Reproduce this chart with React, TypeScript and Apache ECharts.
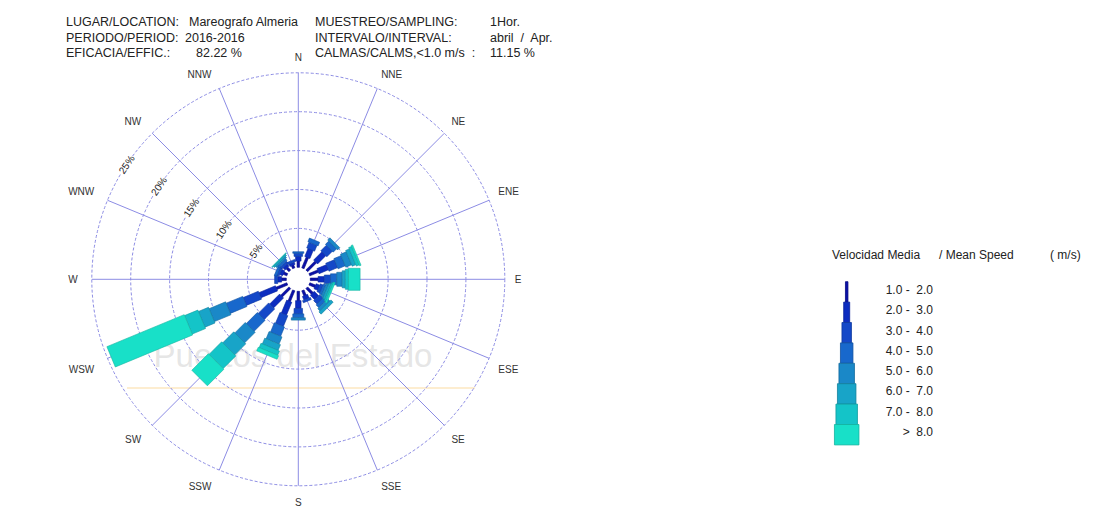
import React, { useEffect, useRef } from 'react';
import * as echarts from 'echarts';

// ---------- data ----------
const DIRECTIONS = ['N', 'NNE', 'NE', 'ENE', 'E', 'ESE', 'SE', 'SSE', 'S', 'SSW', 'SW', 'WSW', 'W', 'WNW', 'NW', 'NNW'];
const DIRECTION_DEG = [0, 22.5, 45, 67.5, 90, 112.5, 135, 157.5, 180, 202.5, 225, 247.5, 270, 292.5, 315, 337.5];
const SPEED_CLASSES = ['1.0 -  2.0', '2.0 -  3.0', '3.0 -  4.0', '4.0 -  5.0', '5.0 -  6.0', '6.0 -  7.0', '7.0 -  8.0', '>  8.0'];
const RING_TICKS = [0, 5, 10, 15, 20, 25];
const RING_LABEL_DEG = 303.75; // bearing along which the ring labels are written

// frequency (%) of each speed class, per direction (N .. NNW)
const F_1_2 = [0.8, 1.5, 1.6, 1.2, 1.0, 0.8, 1.0, 0.7, 1.2, 1.5, 1.5, 1.5, 0.6, 0.5, 0.5, 0.4];
const F_2_3 = [0.6, 1.1, 1.5, 1.3, 0.8, 0.5, 0.8, 0.5, 1.0, 1.8, 1.8, 2.3, 0.5, 0.4, 0.4, 0.3];
const F_3_4 = [0.4, 0.8, 1.0, 1.2, 0.8, 0.4, 0.6, 0.3, 0.7, 1.5, 1.9, 2.1, 0.4, 0.3, 0.3, 0.3];
const F_4_5 = [0.2, 0.5, 0.6, 1.0, 0.8, 0.3, 0.5, 0.0, 0.5, 1.3, 2.0, 2.3, 0.0, 0.3, 0.3, 0.0];
const F_5_6 = [0.0, 0.0, 0.4, 0.8, 0.7, 0.3, 0.4, 0.0, 0.3, 1.0, 1.9, 2.3, 0.0, 0.0, 0.2, 0.0];
const F_6_7 = [0.0, 0.0, 0.0, 0.5, 0.4, 0.3, 0.4, 0.0, 0.0, 0.8, 2.0, 1.4, 0.0, 0.0, 0.2, 0.0];
const F_7_8 = [0.0, 0.0, 0.0, 0.4, 0.4, 0.2, 0.0, 0.0, 0.0, 0.6, 2.3, 1.85, 0.0, 0.0, 0.1, 0.0];
const F_GT8 = [0.0, 0.0, 0.0, 0.2, 1.5, 0.2, 0.0, 0.0, 0.0, 0.5, 3.0, 10.75, 0.0, 0.0, 0.0, 0.0];
const FREQS = [F_1_2, F_2_3, F_3_4, F_4_5, F_5_6, F_6_7, F_7_8, F_GT8];

const HEADER_LEFT = [
  ['LUGAR/LOCATION:', 'Mareografo Almeria'],
  ['PERIODO/PERIOD:', '2016-2016'],
  ['EFICACIA/EFFIC.:', '82.22 %'],
];
const HEADER_RIGHT = [
  ['MUESTREO/SAMPLING:', '1Hor.'],
  ['INTERVALO/INTERVAL:', 'abril  /  Apr.'],
  ['CALMAS/CALMS,<1.0 m/s  :', '11.15 %'],
];

// ---------- style ----------
const CLASS_COLORS = ['#0a10a8', '#0c2cc0', '#1448c8', '#1868cc', '#1a88c8', '#18a4c8', '#14c4c8', '#18e0c8'];
const CLASS_STROKES = ['#060a80', '#08209a', '#0e389e', '#1050a0', '#12689c', '#10809c', '#0e9c9e', '#12b4a0'];
const BAR_WIDTHS = [2.5, 5.5, 8.5, 11, 14, 17, 20, 22];
const LEGEND_WIDTHS = [2.5, 6, 9.5, 12.5, 15.5, 18.5, 21.5, 24.5];
const LINE = '#8c8ce4';
const FONT = '"Liberation Sans", Arial, sans-serif';
const CX = 298.3;
const CY = 279.3;
const R_IN = 12;
const R_OUT = 206.5;
const RMAX = RING_TICKS[RING_TICKS.length - 1];
const DIR_LABEL_GAP = 10;
const RING_LABEL_ROT = 56.25;

function buildSegments() {
  const out: number[][] = [];
  DIRECTIONS.forEach((_, d) => {
    let acc = 0;
    FREQS.forEach((arr, c) => {
      const v = arr[d];
      if (v > 0) {
        out.push([DIRECTION_DEG[d], acc, acc + v, c]);
        acc += v;
      }
    });
  });
  return out;
}

function buildGraphic() {
  const g: any[] = [];
  g.push({ type: 'text', z: 0, x: 293, y: 355, style: { text: 'Puertos del Estado', font: '33px ' + FONT, fill: 'rgba(190,190,190,0.4)', align: 'center', verticalAlign: 'middle' } });
  g.push({ type: 'rect', z: 0, shape: { x: 127, y: 387, width: 348, height: 2 }, style: { fill: 'rgba(250,215,150,0.45)' } });
  const hf = '12.5px ' + FONT;
  HEADER_LEFT.forEach((row, i) => {
    const y = 21.7 + i * 15.8;
    g.push({ type: 'text', x: 66, y, style: { text: row[0], font: hf, fill: '#222', verticalAlign: 'middle' } });
    g.push({ type: 'text', x: i === 2 ? 196 : i === 1 ? 185 : 189, y, style: { text: row[1], font: hf, fill: '#222', verticalAlign: 'middle' } });
  });
  HEADER_RIGHT.forEach((row, i) => {
    const y = 21.7 + i * 15.8;
    g.push({ type: 'text', x: 315, y, style: { text: row[0], font: hf, fill: '#222', verticalAlign: 'middle' } });
    g.push({ type: 'text', x: 490, y, style: { text: row[1], font: hf, fill: '#222', verticalAlign: 'middle' } });
  });
  g.push({ type: 'text', x: 832, y: 255, style: { text: 'Velocidad Media', font: '12px ' + FONT, fill: '#222', verticalAlign: 'middle' } });
  g.push({ type: 'text', x: 939, y: 255, style: { text: '/ Mean Speed', font: '12px ' + FONT, fill: '#222', verticalAlign: 'middle' } });
  g.push({ type: 'text', x: 1050, y: 255, style: { text: '( m/s)', font: '12px ' + FONT, fill: '#222', verticalAlign: 'middle' } });
  SPEED_CLASSES.forEach((lab, i) => {
    const h = 20.4;
    const top = 281.7 + i * h;
    const w = LEGEND_WIDTHS[i];
    g.push({ type: 'rect', shape: { x: 846.7 - w / 2, y: top, width: w, height: h }, style: { fill: CLASS_COLORS[i], stroke: CLASS_STROKES[i], lineWidth: 0.8 } });
    g.push({ type: 'text', x: 933, y: 290 + i * 20.25, style: { text: lab, font: '12px ' + FONT, fill: '#222', align: 'right', verticalAlign: 'middle' } });
  });
  return g;
}

export default function App() {
  const ref = useRef<HTMLDivElement>(null);
  useEffect(() => {
    const chart = echarts.init(ref.current!, null, { renderer: 'svg' });
    const segments = buildSegments();
    const ringLabels = RING_TICKS.filter((t) => t > 0).map((t) => [t, RING_LABEL_DEG]);
    const rings = RING_TICKS.filter((t) => t > 0).map((t) => [t, 0]);
    const labelRadius = (RMAX * (R_OUT + DIR_LABEL_GAP - R_IN)) / (R_OUT - R_IN);
    const dirLabels = DIRECTION_DEG.map((deg, i) => [labelRadius, deg, i]);
    const spokes = DIRECTION_DEG.map((deg) => [RMAX, deg]);
    const option: any = {
      animation: false,
      backgroundColor: '#ffffff',
      polar: { center: [CX, CY], radius: [R_IN, R_OUT] },
      angleAxis: {
        type: 'value', min: 0, max: 360, interval: 22.5, startAngle: 90, clockwise: true,
        axisLine: { show: false }, axisTick: { show: false }, axisLabel: { show: false }, splitLine: { show: false },
      },
      radiusAxis: {
        type: 'value', min: RING_TICKS[0], max: RMAX, interval: 5,
        axisLine: { show: false }, axisTick: { show: false }, axisLabel: { show: false }, splitLine: { show: false },
      },
      series: [
        {
          // range rings
          type: 'custom',
          coordinateSystem: 'polar',
          encode: { radius: 0, angle: 1 },
          data: rings,
          z: 1,
          silent: true,
          renderItem: (params: any, api: any) => {
            const cs = params.coordSys;
            const p = api.coord([api.value(0), api.value(1)]);
            const r = Math.hypot(p[0] - cs.cx, p[1] - cs.cy);
            return {
              type: 'circle',
              shape: { cx: cs.cx, cy: cs.cy, r },
              style: { fill: 'none', stroke: LINE, lineWidth: 1, lineDash: [3, 2] },
            };
          },
        },
        {
          // direction spokes
          type: 'custom',
          coordinateSystem: 'polar',
          encode: { radius: 0, angle: 1 },
          data: spokes,
          z: 1,
          silent: true,
          renderItem: (params: any, api: any) => {
            const deg = api.value(1);
            const a = api.coord([0, deg]);
            const b = api.coord([api.value(0), deg]);
            return {
              type: 'line',
              shape: { x1: a[0], y1: a[1], x2: b[0], y2: b[1] },
              style: { stroke: LINE, lineWidth: 1 },
            };
          },
        },
        {
          type: 'custom',
          coordinateSystem: 'polar',
          encode: { radius: 2, angle: 0 },
          data: segments,
          z: 5,
          renderItem: (params: any, api: any) => {
            const deg = api.value(0);
            const a = api.value(1);
            const b = api.value(2);
            const c = api.value(3);
            const p0 = api.coord([a, deg]);
            const p1 = api.coord([b, deg]);
            const dx = p1[0] - p0[0];
            const dy = p1[1] - p0[1];
            const len = Math.hypot(dx, dy) || 1;
            const nx = -dy / len;
            const ny = dx / len;
            const hw = BAR_WIDTHS[c] / 2;
            return {
              type: 'polygon',
              shape: {
                points: [
                  [p0[0] + nx * hw, p0[1] + ny * hw],
                  [p1[0] + nx * hw, p1[1] + ny * hw],
                  [p1[0] - nx * hw, p1[1] - ny * hw],
                  [p0[0] - nx * hw, p0[1] - ny * hw],
                ],
              },
              style: { fill: CLASS_COLORS[c], stroke: CLASS_STROKES[c], lineWidth: 0.6 },
              z2: c,
            };
          },
        },
        {
          type: 'custom',
          coordinateSystem: 'polar',
          encode: { radius: 0, angle: 1 },
          data: ringLabels,
          z: 3,
          renderItem: (params: any, api: any) => {
            const p = api.coord([api.value(0), api.value(1)]);
            return {
              type: 'text',
              x: p[0],
              y: p[1],
              rotation: (RING_LABEL_ROT * Math.PI) / 180,
              style: {
                text: api.value(0) + '%',
                font: '10px ' + FONT,
                fill: '#222',
                align: 'center',
                verticalAlign: 'middle',
                backgroundColor: '#fff',
              },
            };
          },
        },
        {
          type: 'custom',
          coordinateSystem: 'polar',
          encode: { radius: 0, angle: 1 },
          data: dirLabels,
          z: 3,
          renderItem: (params: any, api: any) => {
            const deg = api.value(1);
            const idx = api.value(2);
            const p = api.coord([api.value(0), deg]);
            const c0 = api.coord([0, deg]);
            const len = Math.hypot(p[0] - c0[0], p[1] - c0[1]) || 1;
            const ux = (p[0] - c0[0]) / len;
            const uy = (p[1] - c0[1]) / len;
            const align = Math.abs(ux) < 0.3 ? 'center' : ux > 0 ? 'left' : 'right';
            const vAlign = Math.abs(uy) < 0.3 ? 'middle' : uy > 0 ? 'top' : 'bottom';
            return {
              type: 'text',
              x: p[0] + (ux < -0.3 ? -4 : 0),
              y: p[1] + (uy > 0.3 ? 2 : 0),
              style: {
                text: DIRECTIONS[idx],
                font: '10px ' + FONT,
                fill: '#333',
                align,
                verticalAlign: vAlign,
              },
            };
          },
        },
      ],
      graphic: buildGraphic(),
    };
    chart.setOption(option);
    return () => chart.dispose();
  }, []);
  return <div ref={ref} style={{ position: 'absolute', left: 0, top: 0, width: 1096, height: 508 }} />;
}
